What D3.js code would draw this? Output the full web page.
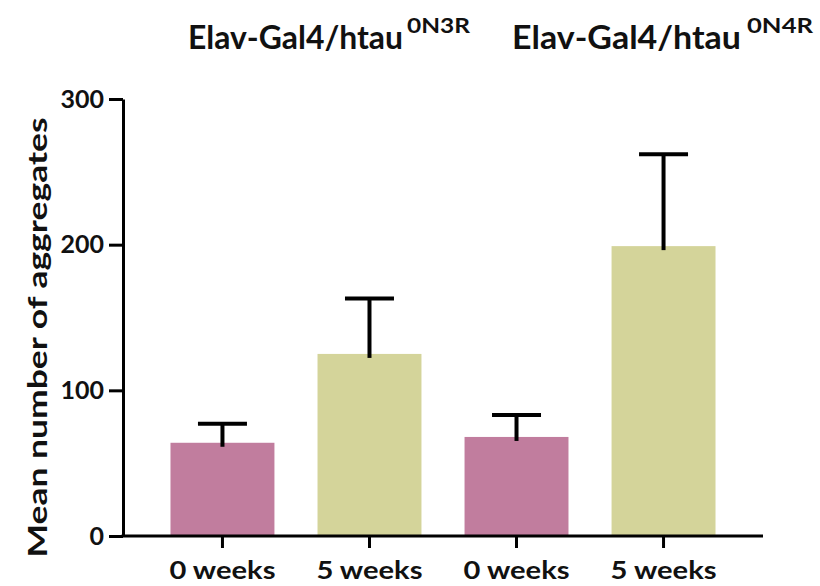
<!DOCTYPE html>
<html>
<head>
<meta charset="utf-8">
<script src="https://cdn.jsdelivr.net/npm/d3@7"></script>
<style>
  html, body { margin: 0; padding: 0; background: #fff; }
  svg { display: block; }
  text { font-family: Lato, "Open Sans", sans-serif; font-weight: 700; fill: #111; }
</style>
</head>
<body>
<svg id="chart" width="820" height="586"></svg>
<script>
// Aggregate counts per genotype and age
const categories = ["0 weeks", "5 weeks", "0 weeks", "5 weeks"];
const means = [64, 125, 68, 199];
const errors = [13, 38, 15, 63];
const yTicks = [0, 100, 200, 300];
const titles = [
  { main: "Elav-Gal4/htau", sup: "0N3R" },
  { main: "Elav-Gal4/htau", sup: "0N4R" }
];
const barColors = ["#c17d9e", "#d4d49a", "#c17d9e", "#d4d49a"];

const svg = d3.select("#chart");
const margin = { left: 123, right: 57, top: 99, bottom: 50 };
const W = 820, H = 586;

const x = d3.scaleBand()
  .domain(d3.range(categories.length))
  .range([margin.left, W - margin.right])
  .paddingInner(0.293)
  .paddingOuter(0.323);

const y = d3.scaleLinear()
  .domain([0, 300])
  .range([H - margin.bottom, margin.top]);

// Bars
svg.append("g").selectAll("rect")
  .data(means)
  .join("rect")
  .attr("x", (d, i) => x(i))
  .attr("width", x.bandwidth())
  .attr("y", d => y(d))
  .attr("height", d => y(0) - y(d))
  .attr("fill", (d, i) => barColors[i]);

// Upper error bars
const capHalf = 24.5;
const eb = svg.append("g").attr("stroke", "#000").attr("stroke-width", 4).attr("fill", "none");
means.forEach((m, i) => {
  const cx = x(i) + x.bandwidth() / 2;
  eb.append("line")
    .attr("x1", cx).attr("x2", cx)
    .attr("y1", y(m) + 4).attr("y2", y(m + errors[i]));
  eb.append("line")
    .attr("x1", cx - capHalf).attr("x2", cx + capHalf)
    .attr("y1", y(m + errors[i])).attr("y2", y(m + errors[i]));
});

// Y axis
const yAxis = svg.append("g")
  .attr("transform", `translate(${margin.left},0)`)
  .call(d3.axisLeft(y).tickValues(yTicks).tickSize(14).tickPadding(5).tickSizeOuter(0));
yAxis.select(".domain").attr("stroke", "#000").attr("stroke-width", 3);
yAxis.selectAll(".tick line").attr("stroke", "#000").attr("stroke-width", 3);
yAxis.selectAll(".tick text")
  .attr("font-size", 25)
  .attr("font-family", "Lato, sans-serif")
  .attr("font-weight", 700)
  .attr("fill", "#111");

// X axis
const xAxis = svg.append("g")
  .attr("transform", `translate(0,${y(0)})`)
  .call(d3.axisBottom(x).tickFormat(i => categories[i]).tickSize(12).tickPadding(14).tickSizeOuter(0));
xAxis.select(".domain").attr("stroke", "#000").attr("stroke-width", 3)
  .attr("d", `M${margin.left - 1.5},0H${W - margin.right}`);
xAxis.selectAll(".tick line").attr("stroke", "#000").attr("stroke-width", 3);
xAxis.selectAll(".tick text")
  .attr("font-size", 24)
  .attr("font-family", "Lato, sans-serif")
  .attr("font-weight", 700)
  .attr("fill", "#111")
  .attr("textLength", 106)
  .attr("lengthAdjust", "spacingAndGlyphs");

// Y axis title
svg.append("text")
  .attr("transform", `translate(47,${(y(0) + y(300)) / 2 + 20}) rotate(-90)`)
  .attr("text-anchor", "middle")
  .attr("font-size", 27)
  .attr("textLength", 440)
  .attr("lengthAdjust", "spacingAndGlyphs")
  .text("Mean number of aggregates");

// Group titles with superscript isoform labels
const titlePos = [
  { x: 188, mainLen: 215, supX: 407, supLen: 63 },
  { x: 512, mainLen: 229, supX: 747, supLen: 66 }
];
titles.forEach((t, i) => {
  const p = titlePos[i];
  svg.append("text")
    .attr("x", p.x).attr("y", 49)
    .attr("font-size", 32)
    .attr("textLength", p.mainLen)
    .attr("lengthAdjust", "spacingAndGlyphs")
    .text(t.main);
  svg.append("text")
    .attr("x", p.supX).attr("y", 33)
    .attr("font-size", 21)
    .attr("textLength", p.supLen)
    .attr("lengthAdjust", "spacingAndGlyphs")
    .text(t.sup);
});
</script>
</body>
</html>
